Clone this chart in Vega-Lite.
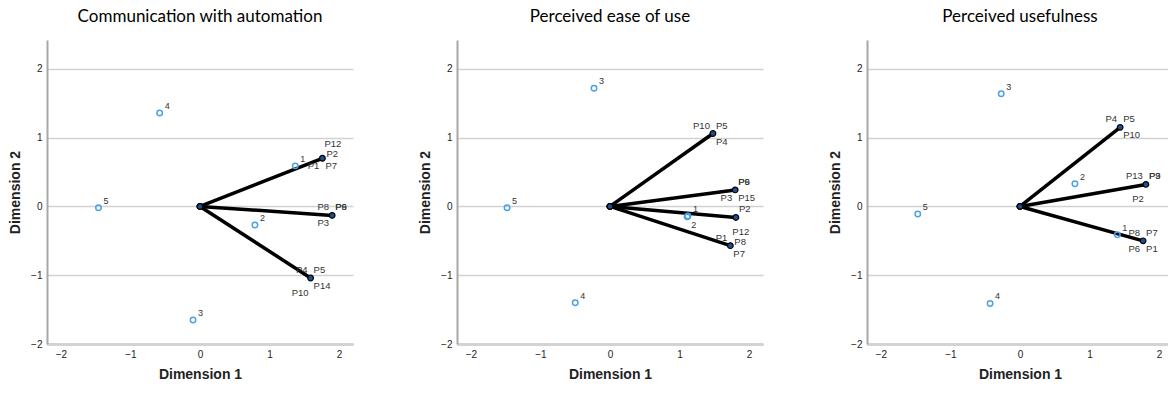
{
  "$schema": "https://vega.github.io/schema/vega-lite/v6.json",
  "padding": {"left": 8, "top": 8, "right": 0, "bottom": 0},
  "background": "white",
  "datasets": {
    "pts": [
      {"panel": "Communication with automation", "kind": "obs", "name": "1", "x": 1.37, "y": 0.59, "pos": "o"},
      {"panel": "Communication with automation", "kind": "obs", "name": "2", "x": 0.79, "y": -0.27, "pos": "o"},
      {"panel": "Communication with automation", "kind": "obs", "name": "3", "x": -0.10, "y": -1.65, "pos": "o"},
      {"panel": "Communication with automation", "kind": "obs", "name": "4", "x": -0.58, "y": 1.36, "pos": "o"},
      {"panel": "Communication with automation", "kind": "obs", "name": "5", "x": -1.46, "y": -0.02, "pos": "o"},
      {"panel": "Perceived ease of use", "kind": "obs", "name": "1", "x": 1.12, "y": -0.14, "pos": "o"},
      {"panel": "Perceived ease of use", "kind": "obs", "name": "2", "x": 1.11, "y": -0.15, "pos": "os"},
      {"panel": "Perceived ease of use", "kind": "obs", "name": "3", "x": -0.23, "y": 1.72, "pos": "o"},
      {"panel": "Perceived ease of use", "kind": "obs", "name": "4", "x": -0.50, "y": -1.40, "pos": "o"},
      {"panel": "Perceived ease of use", "kind": "obs", "name": "5", "x": -1.48, "y": -0.02, "pos": "o"},
      {"panel": "Perceived usefulness", "kind": "obs", "name": "1", "x": 1.40, "y": -0.41, "pos": "o"},
      {"panel": "Perceived usefulness", "kind": "obs", "name": "2", "x": 0.79, "y": 0.33, "pos": "o"},
      {"panel": "Perceived usefulness", "kind": "obs", "name": "3", "x": -0.27, "y": 1.64, "pos": "o"},
      {"panel": "Perceived usefulness", "kind": "obs", "name": "4", "x": -0.43, "y": -1.41, "pos": "o"},
      {"panel": "Perceived usefulness", "kind": "obs", "name": "5", "x": -1.47, "y": -0.11, "pos": "o"},

      {"panel": "Communication with automation", "kind": "vec", "name": "A", "x": 1.76, "y": 0.70},
      {"panel": "Communication with automation", "kind": "vec", "name": "B", "x": 1.90, "y": -0.13},
      {"panel": "Communication with automation", "kind": "vec", "name": "C", "x": 1.59, "y": -1.04},
      {"panel": "Perceived ease of use", "kind": "vec", "name": "A", "x": 1.48, "y": 1.06},
      {"panel": "Perceived ease of use", "kind": "vec", "name": "B", "x": 1.80, "y": 0.24},
      {"panel": "Perceived ease of use", "kind": "vec", "name": "C", "x": 1.81, "y": -0.16},
      {"panel": "Perceived ease of use", "kind": "vec", "name": "D", "x": 1.73, "y": -0.57},
      {"panel": "Perceived usefulness", "kind": "vec", "name": "A", "x": 1.44, "y": 1.15},
      {"panel": "Perceived usefulness", "kind": "vec", "name": "B", "x": 1.81, "y": 0.32},
      {"panel": "Perceived usefulness", "kind": "vec", "name": "C", "x": 1.77, "y": -0.50},

      {"panel": "Communication with automation", "kind": "lab", "name": "P12", "x": 1.76, "y": 0.70, "pos": "n"},
      {"panel": "Communication with automation", "kind": "lab", "name": "P2", "x": 1.76, "y": 0.70, "pos": "e"},
      {"panel": "Communication with automation", "kind": "lab", "name": "P1", "x": 1.76, "y": 0.70, "pos": "sw"},
      {"panel": "Communication with automation", "kind": "lab", "name": "P7", "x": 1.76, "y": 0.70, "pos": "se"},
      {"panel": "Communication with automation", "kind": "lab", "name": "P8", "x": 1.90, "y": -0.13, "pos": "nw"},
      {"panel": "Communication with automation", "kind": "lab", "name": "P6", "x": 1.90, "y": -0.13, "pos": "ne"},
      {"panel": "Communication with automation", "kind": "lab", "name": "P9", "x": 1.90, "y": -0.13, "pos": "ne"},
      {"panel": "Communication with automation", "kind": "lab", "name": "P3", "x": 1.90, "y": -0.13, "pos": "sw"},
      {"panel": "Communication with automation", "kind": "lab", "name": "P4", "x": 1.59, "y": -1.04, "pos": "nw"},
      {"panel": "Communication with automation", "kind": "lab", "name": "P5", "x": 1.59, "y": -1.04, "pos": "ne"},
      {"panel": "Communication with automation", "kind": "lab", "name": "P14", "x": 1.59, "y": -1.04, "pos": "se"},
      {"panel": "Communication with automation", "kind": "lab", "name": "P10", "x": 1.59, "y": -1.04, "pos": "s2"},

      {"panel": "Perceived ease of use", "kind": "lab", "name": "P10", "x": 1.48, "y": 1.06, "pos": "nw"},
      {"panel": "Perceived ease of use", "kind": "lab", "name": "P5", "x": 1.48, "y": 1.06, "pos": "ne"},
      {"panel": "Perceived ease of use", "kind": "lab", "name": "P4", "x": 1.48, "y": 1.06, "pos": "se"},
      {"panel": "Perceived ease of use", "kind": "lab", "name": "P6", "x": 1.80, "y": 0.24, "pos": "ne"},
      {"panel": "Perceived ease of use", "kind": "lab", "name": "P9", "x": 1.80, "y": 0.24, "pos": "ne"},
      {"panel": "Perceived ease of use", "kind": "lab", "name": "P3", "x": 1.80, "y": 0.24, "pos": "sw"},
      {"panel": "Perceived ease of use", "kind": "lab", "name": "P15", "x": 1.80, "y": 0.24, "pos": "se"},
      {"panel": "Perceived ease of use", "kind": "lab", "name": "P2", "x": 1.81, "y": -0.16, "pos": "ne"},
      {"panel": "Perceived ease of use", "kind": "lab", "name": "P12", "x": 1.73, "y": -0.57, "pos": "n"},
      {"panel": "Perceived ease of use", "kind": "lab", "name": "P1", "x": 1.73, "y": -0.57, "pos": "nw"},
      {"panel": "Perceived ease of use", "kind": "lab", "name": "P8", "x": 1.73, "y": -0.57, "pos": "e"},
      {"panel": "Perceived ease of use", "kind": "lab", "name": "P7", "x": 1.73, "y": -0.57, "pos": "se"},

      {"panel": "Perceived usefulness", "kind": "lab", "name": "P4", "x": 1.44, "y": 1.15, "pos": "nw"},
      {"panel": "Perceived usefulness", "kind": "lab", "name": "P5", "x": 1.44, "y": 1.15, "pos": "ne"},
      {"panel": "Perceived usefulness", "kind": "lab", "name": "P10", "x": 1.44, "y": 1.15, "pos": "se"},
      {"panel": "Perceived usefulness", "kind": "lab", "name": "P13", "x": 1.81, "y": 0.32, "pos": "nw"},
      {"panel": "Perceived usefulness", "kind": "lab", "name": "P9", "x": 1.81, "y": 0.32, "pos": "ne"},
      {"panel": "Perceived usefulness", "kind": "lab", "name": "P3", "x": 1.81, "y": 0.32, "pos": "ne"},
      {"panel": "Perceived usefulness", "kind": "lab", "name": "P2", "x": 1.81, "y": 0.32, "pos": "s2"},
      {"panel": "Perceived usefulness", "kind": "lab", "name": "P8", "x": 1.77, "y": -0.50, "pos": "nw"},
      {"panel": "Perceived usefulness", "kind": "lab", "name": "P7", "x": 1.77, "y": -0.50, "pos": "ne"},
      {"panel": "Perceived usefulness", "kind": "lab", "name": "P6", "x": 1.77, "y": -0.50, "pos": "sw"},
      {"panel": "Perceived usefulness", "kind": "lab", "name": "P1", "x": 1.77, "y": -0.50, "pos": "se"}
    ]
  },
  "data": {"name": "pts"},
  "facet": {
    "column": {
      "field": "panel",
      "type": "nominal",
      "sort": ["Communication with automation", "Perceived ease of use", "Perceived usefulness"],
      "header": {"title": null, "labelFontSize": 17, "labelFont": "Lato", "labelColor": "#000", "labelPadding": 14}
    }
  },
  "spacing": 104,
  "bounds": "flush",
  "resolve": {"axis": {"y": "independent"}},
  "spec": {
    "width": 306,
    "height": 304,
    "encoding": {
      "x": {"field": "x", "type": "quantitative", "scale": {"domain": [-2.2, 2.2], "nice": false, "zero": false},
            "axis": {"title": "Dimension 1", "values": [-2, -1, 0, 1, 2], "grid": false, "titlePadding": 8}},
      "y": {"field": "y", "type": "quantitative", "scale": {"domain": [-2, 2.42], "nice": false, "zero": false},
            "axis": {"title": "Dimension 2", "values": [-2, -1, 0, 1, 2], "grid": true, "titlePadding": 8}}
    },
    "layer": [
      {"transform": [{"filter": "datum.kind === 'vec'"}],
       "mark": {"type": "rule", "color": "#000", "strokeWidth": 3.5},
       "encoding": {"x2": {"datum": 0}, "y2": {"datum": 0}}},
      {"transform": [{"filter": "datum.kind === 'vec'"}],
       "mark": {"type": "point", "filled": true, "fill": "#1f4f8f", "stroke": "#000", "strokeWidth": 1.2, "size": 32, "opacity": 1},
       "encoding": {"x": {"datum": 0}, "y": {"datum": 0}}},
      {"transform": [{"filter": "datum.kind === 'obs'"}],
       "mark": {"type": "point", "filled": false, "stroke": "#4aa3e6", "strokeWidth": 1.5, "size": 30, "opacity": 1}},
      {"transform": [{"filter": "datum.kind === 'vec'"}],
       "mark": {"type": "point", "filled": true, "fill": "#1f4f8f", "stroke": "#000", "strokeWidth": 1.2, "size": 32, "opacity": 1}},
      {"transform": [{"filter": "datum.pos === 'o'"}],
       "mark": {"type": "text", "align": "left", "baseline": "middle", "dx": 5, "dy": -7, "font": "Liberation Sans", "fontSize": 9, "color": "#333"},
       "encoding": {"text": {"field": "name"}}},
      {"transform": [{"filter": "datum.pos === 'os'"}],
       "mark": {"type": "text", "align": "left", "baseline": "middle", "dx": 4, "dy": 8, "font": "Liberation Sans", "fontSize": 9, "color": "#333"},
       "encoding": {"text": {"field": "name"}}},
      {"transform": [{"filter": "datum.pos === 'ne'"}],
       "mark": {"type": "text", "align": "left", "baseline": "middle", "dx": 3, "dy": -8, "font": "Liberation Sans", "fontSize": 9.5, "color": "#333"},
       "encoding": {"text": {"field": "name"}}},
      {"transform": [{"filter": "datum.pos === 'nw'"}],
       "mark": {"type": "text", "align": "right", "baseline": "middle", "dx": -3, "dy": -8, "font": "Liberation Sans", "fontSize": 9.5, "color": "#333"},
       "encoding": {"text": {"field": "name"}}},
      {"transform": [{"filter": "datum.pos === 'se'"}],
       "mark": {"type": "text", "align": "left", "baseline": "middle", "dx": 3, "dy": 8, "font": "Liberation Sans", "fontSize": 9.5, "color": "#333"},
       "encoding": {"text": {"field": "name"}}},
      {"transform": [{"filter": "datum.pos === 'sw'"}],
       "mark": {"type": "text", "align": "right", "baseline": "middle", "dx": -3, "dy": 8, "font": "Liberation Sans", "fontSize": 9.5, "color": "#333"},
       "encoding": {"text": {"field": "name"}}},
      {"transform": [{"filter": "datum.pos === 'n'"}],
       "mark": {"type": "text", "align": "left", "baseline": "middle", "dx": 2, "dy": -14, "font": "Liberation Sans", "fontSize": 9.5, "color": "#333"},
       "encoding": {"text": {"field": "name"}}},
      {"transform": [{"filter": "datum.pos === 'e'"}],
       "mark": {"type": "text", "align": "left", "baseline": "middle", "dx": 4, "dy": -4, "font": "Liberation Sans", "fontSize": 9.5, "color": "#333"},
       "encoding": {"text": {"field": "name"}}},
      {"transform": [{"filter": "datum.pos === 's2'"}],
       "mark": {"type": "text", "align": "right", "baseline": "middle", "dx": -2, "dy": 15, "font": "Liberation Sans", "fontSize": 9.5, "color": "#333"},
       "encoding": {"text": {"field": "name"}}}
    ]
  },
  "config": {
    "view": {"stroke": null},
    "axis": {
      "domainColor": "#a8a8a8",
      "domainWidth": 2,
      "ticks": false,
      "labelFont": "Liberation Sans",
      "labelFontSize": 10,
      "labelColor": "#222",
      "labelPadding": 5,
      "titleFont": "Liberation Sans",
      "titleFontSize": 14,
      "titleFontWeight": "bold",
      "titleColor": "#222",
      "gridColor": "#d2d2d2",
      "gridWidth": 1.5
    }
  }
}
